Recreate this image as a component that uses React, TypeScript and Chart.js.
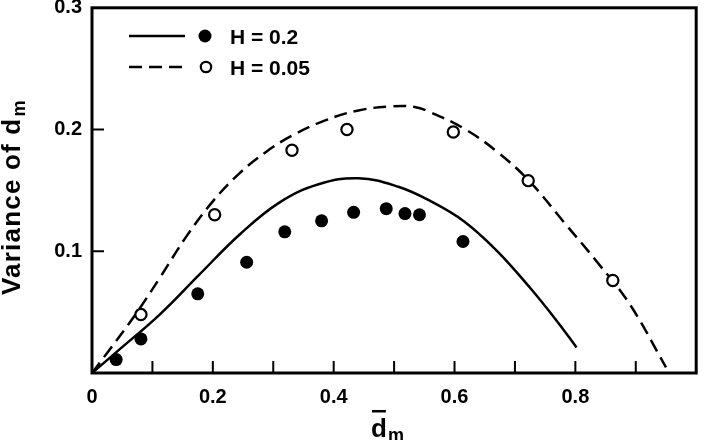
import React, { useEffect, useRef } from 'react';
import { Chart, registerables } from 'chart.js';

Chart.register(...registerables);

// Theory curve, H = 0.2 (solid)
const solidX = [0, 0.047, 0.112, 0.178, 0.244, 0.31, 0.375, 0.441, 0.507, 0.561, 0.616, 0.671, 0.725, 0.769, 0.802];
const solidY = [0, 0.02, 0.048, 0.081, 0.1136, 0.14, 0.155, 0.16, 0.153, 0.141, 0.1245, 0.1, 0.07, 0.043, 0.021];

// Theory curve, H = 0.05 (dashed)
const dashedX = [0, 0.025, 0.069, 0.112, 0.156, 0.2, 0.244, 0.288, 0.331, 0.386, 0.441, 0.496, 0.534, 0.561, 0.616, 0.671, 0.725, 0.78, 0.835, 0.89, 0.95];
const dashedY = [0, 0.0165, 0.046, 0.078, 0.112, 0.141, 0.164, 0.1816, 0.195, 0.2075, 0.2157, 0.219, 0.2185, 0.214, 0.2007, 0.1816, 0.157, 0.1245, 0.0918, 0.0565, 0.0047];

// Observed, H = 0.2 (filled dots)
const filledX = [0.04, 0.081, 0.175, 0.256, 0.319, 0.38, 0.433, 0.487, 0.518, 0.542, 0.614];
const filledY = [0.011, 0.028, 0.065, 0.091, 0.116, 0.125, 0.132, 0.135, 0.131, 0.13, 0.108];

// Observed, H = 0.05 (open circles)
const openX = [0.081, 0.203, 0.331, 0.422, 0.598, 0.722, 0.862];
const openY = [0.048, 0.13, 0.183, 0.2, 0.198, 0.158, 0.076];

// Axis tick marks and labels
const xTickMarks = [0.1, 0.2, 0.3, 0.4, 0.5, 0.6, 0.7, 0.8, 0.9];
const xLabelled = ['0', '0.2', '0.4', '0.6', '0.8'];
const yTickMarks = [0.1, 0.2];
const yLabelled = ['0.1', '0.2', '0.3'];

const legendLabels = ['H = 0.2', 'H = 0.05'];
const yTitle = 'Variance of d';
const xTitle = 'd';
const subTitle = 'm';

const toPts = (xs: number[], ys: number[]) => xs.map((x, i) => ({ x, y: ys[i] }));

const FONT = '"Liberation Sans", Arial, Helvetica, sans-serif';

export default function App() {
  const ref = useRef<HTMLCanvasElement>(null);

  useEffect(() => {
    if (!ref.current) return;

    const decor = {
      id: 'decor',
      afterDraw(chart: any) {
        const { ctx, chartArea: a, scales } = chart;
        ctx.save();
        ctx.strokeStyle = '#000';
        ctx.fillStyle = '#000';
        // inward tick marks
        ctx.lineWidth = 2;
        ctx.beginPath();
        xTickMarks.forEach((v) => {
          const px = scales.x.getPixelForValue(v);
          ctx.moveTo(px, a.bottom);
          ctx.lineTo(px, a.bottom - 12);
        });
        yTickMarks.forEach((v) => {
          const py = scales.y.getPixelForValue(v);
          ctx.moveTo(a.left, py);
          ctx.lineTo(a.left + 12, py);
        });
        ctx.stroke();
        // frame
        ctx.lineWidth = 3;
        ctx.strokeRect(a.left, a.top, a.right - a.left, a.bottom - a.top);

        // legend
        ctx.lineWidth = 2.4;
        ctx.beginPath();
        ctx.moveTo(129, 36);
        ctx.lineTo(185, 36);
        ctx.stroke();
        ctx.setLineDash([13, 7]);
        ctx.beginPath();
        ctx.moveTo(129, 67);
        ctx.lineTo(185, 67);
        ctx.stroke();
        ctx.setLineDash([]);
        ctx.beginPath();
        ctx.arc(205, 36, 6.5, 0, Math.PI * 2);
        ctx.fill();
        ctx.lineWidth = 2.2;
        ctx.beginPath();
        ctx.arc(206, 67, 5.2, 0, Math.PI * 2);
        ctx.stroke();
        ctx.font = `bold 21px ${FONT}`;
        ctx.textBaseline = 'alphabetic';
        ctx.textAlign = 'left';
        ctx.fillText(legendLabels[0], 230, 44);
        ctx.fillText(legendLabels[1], 230, 75);

        // y title (rotated)
        ctx.save();
        ctx.translate(20, 295);
        ctx.rotate(-Math.PI / 2);
        ctx.font = `bold 26px ${FONT}`;
        (ctx as any).letterSpacing = '1.2px';
        ctx.fillText(yTitle, 0, 0);
        const w = ctx.measureText(yTitle).width;
        ctx.font = `bold 18px ${FONT}`;
        (ctx as any).letterSpacing = '0px';
        ctx.fillText(subTitle, w + 1, 5);
        ctx.restore();

        // x title: d-bar with subscript m
        ctx.font = `bold 26px ${FONT}`;
        ctx.fillText(xTitle, 371, 437);
        const dw = ctx.measureText(xTitle).width;
        ctx.fillRect(372, 410, dw - 2, 2.5);
        ctx.font = `bold 18px ${FONT}`;
        ctx.fillText(subTitle, 371 + dw + 1, 441);

        ctx.restore();
      },
    };

    const noPad = (s: any) => {
      s.paddingTop = 0;
      s.paddingBottom = 0;
      s.paddingLeft = 0;
      s.paddingRight = 0;
    };

    const chart = new Chart(ref.current, {
      type: 'scatter',
      data: {
        datasets: [
          {
            label: 'obs H=0.2',
            data: toPts(filledX, filledY),
            pointRadius: 6.5,
            pointBackgroundColor: '#000',
            pointBorderColor: '#000',
            pointBorderWidth: 0,
            showLine: false,
          },
          {
            label: 'obs H=0.05',
            data: toPts(openX, openY),
            pointRadius: 5.6,
            pointBackgroundColor: '#fff',
            pointBorderColor: '#000',
            pointBorderWidth: 2.2,
            showLine: false,
          },
          {
            label: 'H = 0.2',
            data: toPts(solidX, solidY),
            showLine: true,
            borderColor: '#000',
            borderWidth: 2.5,
            pointRadius: 0,
            tension: 0.4,
          },
          {
            label: 'H = 0.05',
            data: toPts(dashedX, dashedY),
            showLine: true,
            borderColor: '#000',
            borderWidth: 2.5,
            borderDash: [13, 7],
            pointRadius: 0,
            tension: 0.4,
          },
        ],
      },
      options: {
        animation: false,
        responsive: false,
        layout: { padding: { top: 5, right: 4, left: 0, bottom: 0 } },
        plugins: { legend: { display: false }, tooltip: { enabled: false } },
        scales: {
          x: {
            type: 'linear',
            min: 0,
            max: 1,
            grid: { display: false, drawTicks: false },
            border: { display: false },
            afterFit: (s: any) => {
              s.height = 67;
              noPad(s);
            },
            ticks: {
              stepSize: 0.1,
              padding: 12,
              color: '#000',
              font: { family: FONT, size: 20, weight: 'bold' },
              maxRotation: 0,
              autoSkip: false,
              callback: (v: any) => {
                const k = Math.round(Number(v) * 10);
                return k % 2 === 0 && k <= 8 ? xLabelled[k / 2] : '';
              },
            },
          },
          y: {
            type: 'linear',
            min: 0,
            max: 0.3,
            grid: { display: false, drawTicks: false },
            border: { display: false },
            afterFit: (s: any) => {
              s.width = 92;
              noPad(s);
            },
            ticks: {
              stepSize: 0.1,
              padding: 10,
              color: '#000',
              font: { family: FONT, size: 20, weight: 'bold' },
              callback: (v: any) => {
                const k = Math.round(Number(v) * 10);
                return k >= 1 ? yLabelled[k - 1] : '';
              },
            },
          },
        },
      },
      plugins: [decor],
    } as any);

    return () => chart.destroy();
  }, []);

  return (
    <div style={{ position: 'fixed', left: 0, top: 0, width: 704, height: 440, background: '#fff' }}>
      <canvas ref={ref} width={704} height={440} style={{ display: 'block' }} />
    </div>
  );
}
